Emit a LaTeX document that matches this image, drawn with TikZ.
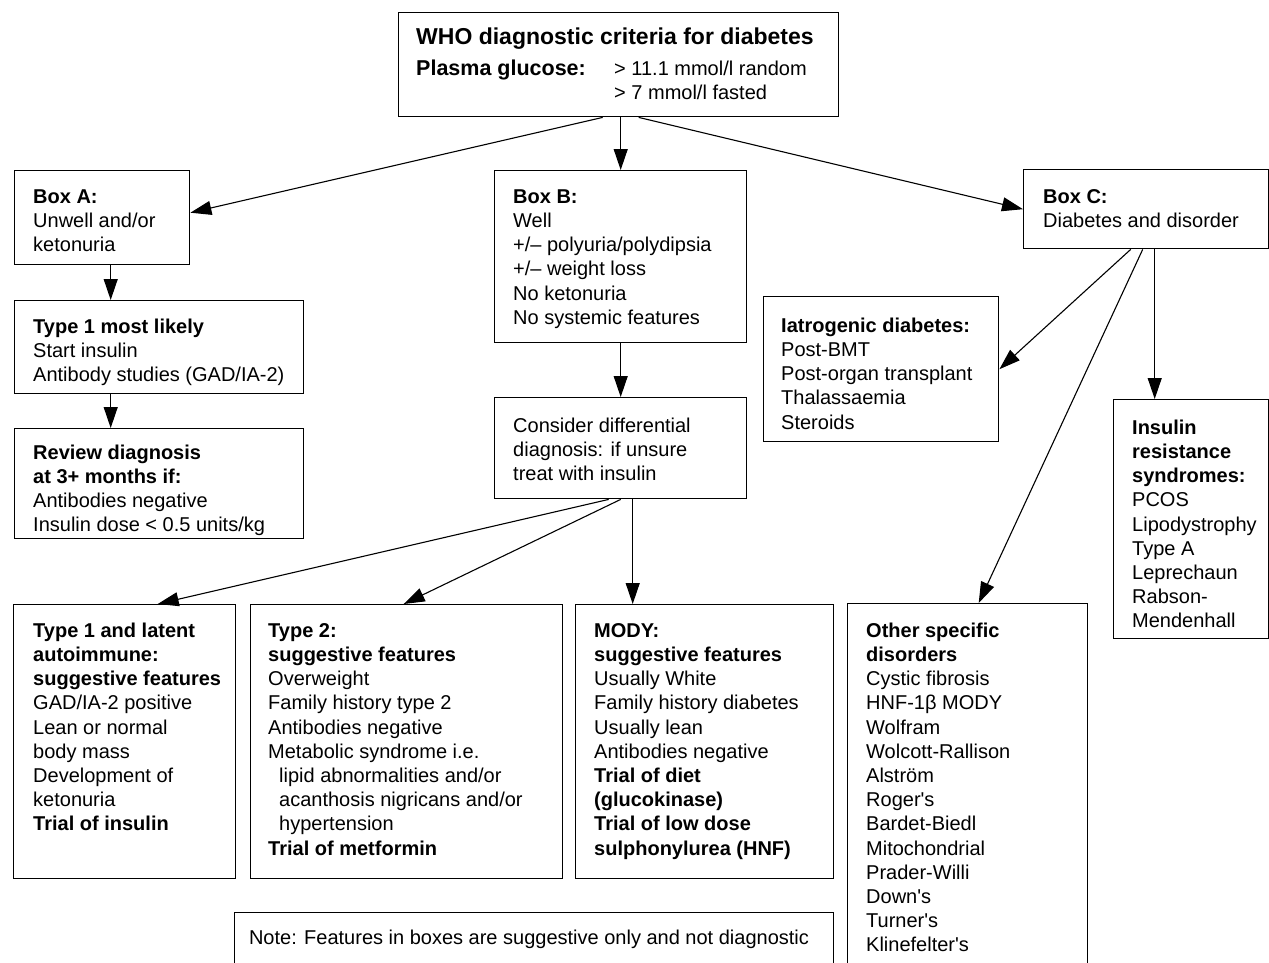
\documentclass[tikz,border=0pt]{standalone}
\usepackage{fontspec}
\setmainfont{Liberation Sans}
\usetikzlibrary{arrows.meta}
\newcommand\fl{\rule{0pt}{15pt}}
\tikzset{
  box/.style={draw, line width=1.4pt, rectangle, inner sep=0pt, anchor=north west},
  txt/.style={anchor=north west, inner sep=0pt, align=left, font=\fontsize{20}{24.2}\selectfont},
  arr/.style={line width=1.1pt, -{Triangle[length=21pt,width=14pt]}},
}
\begin{document}
\begin{tikzpicture}[x=1pt,y=-1pt]
\useasboundingbox (0,0) rectangle (1269,962);
\clip (0,0) rectangle (1269,962);
\fill[white] (0,0) rectangle (1269,962);

% boxes
\node[box, minimum width=440pt, minimum height=104pt] (who) at (398,12) {};
\node[box, minimum width=175pt, minimum height=94pt] (boxA) at (14,170) {};
\node[box, minimum width=252pt, minimum height=172pt] (boxB) at (494,170) {};
\node[box, minimum width=245pt, minimum height=79pt] (boxC) at (1023,169) {};
\node[box, minimum width=289pt, minimum height=93pt] (t1) at (14,300) {};
\node[box, minimum width=289pt, minimum height=110pt] (rev) at (14,428) {};
\node[box, minimum width=252pt, minimum height=101pt] (cons) at (494,397) {};
\node[box, minimum width=235pt, minimum height=145pt] (iat) at (763,296) {};
\node[box, minimum width=155pt, minimum height=239pt] (ins) at (1113,399) {};
\node[box, minimum width=222pt, minimum height=274pt] (lat) at (13,604) {};
\node[box, minimum width=312pt, minimum height=274pt] (t2) at (250,604) {};
\node[box, minimum width=258pt, minimum height=274pt] (mody) at (575,604) {};
\node[box, minimum width=240pt, minimum height=380pt] (oth) at (847,603) {};
\node[box, minimum width=599pt, minimum height=80pt] (note) at (234,912) {};

% texts
\node[txt, font=\fontsize{23}{24.2}\selectfont] (whot) at (416,28) {\textbf{WHO diagnostic criteria for diabetes}};
\node[txt, font=\fontsize{21.5}{24.2}\selectfont] (whop) at (416,60) {\fl\textbf{Plasma glucose:}};
\node[txt] (whov) at (614,60) {\fl> 11.1 mmol/l random\\> 7 mmol/l fasted};

\node[txt] (tA) at (33,188) {\fl\textbf{Box A:}\\Unwell and/or\\ketonuria};
\node[txt] (tt1) at (33,318) {\fl\textbf{Type 1 most likely}\\Start insulin\\Antibody studies (GAD/IA-2)};
\node[txt] (trev) at (33,444) {\fl\textbf{Review diagnosis}\\\textbf{at 3+ months if:}\\Antibodies negative\\Insulin dose < 0.5 units/kg};
\node[txt] (tB) at (513,188) {\fl\textbf{Box B:}\\Well\\+/– polyuria/polydipsia\\+/– weight loss\\No ketonuria\\No systemic features};
\node[txt] (tcons) at (513,417) {\fl Consider differential\\diagnosis: if unsure\\treat with insulin};
\node[txt] (tC) at (1043,188) {\fl\textbf{Box C:}\\Diabetes and disorder};
\node[txt] (tiat) at (781,317) {\fl\textbf{Iatrogenic diabetes:}\\Post-BMT\\Post-organ transplant\\Thalassaemia\\Steroids};
\node[txt] (tins) at (1132,419) {\fl\textbf{Insulin}\\\textbf{resistance}\\\textbf{syndromes:}\\PCOS\\Lipodystrophy\\Type A\\Leprechaun\\Rabson-\\Mendenhall};
\node[txt] (tlat) at (33,622) {\fl\textbf{Type 1 and latent}\\\textbf{autoimmune:}\\\textbf{suggestive features}\\GAD/IA-2 positive\\Lean or normal\\body mass\\Development of\\ketonuria\\\textbf{Trial of insulin}};
\node[txt] (tt2) at (268,622) {\fl\textbf{Type 2:}\\\textbf{suggestive features}\\Overweight\\Family history type 2\\Antibodies negative\\Metabolic syndrome i.e.\\\hspace*{11pt}lipid abnormalities and/or\\\hspace*{11pt}acanthosis nigricans and/or\\\hspace*{11pt}hypertension\\\textbf{Trial of metformin}};
\node[txt] (tmody) at (594,622) {\fl\textbf{MODY:}\\\textbf{suggestive features}\\Usually White\\Family history diabetes\\Usually lean\\Antibodies negative\\\textbf{Trial of diet}\\\textbf{(glucokinase)}\\\textbf{Trial of low dose}\\\textbf{sulphonylurea (HNF)}};
\node[txt] (toth) at (866,622) {\fl\textbf{Other specific}\\\textbf{disorders}\\Cystic fibrosis\\HNF-1β MODY\\Wolfram\\Wolcott-Rallison\\Alström\\Roger\textquotesingle s\\Bardet-Biedl\\Mitochondrial\\Prader-Willi\\Down\textquotesingle s\\Turner\textquotesingle s\\Klinefelter\textquotesingle s};
\node[anchor=base, inner sep=0pt, font=\fontsize{20}{24.2}\selectfont] (tnote) at (529,944) {Note: Features in boxes are suggestive only and not diagnostic};

% connectors
\draw[arr] ([shift={(-16,0)}]who.south) -- ([shift={(0,-5)}]boxA.east);
\draw[arr] (who.south -| boxB.north) -- (boxB.north);
\draw[arr] ([shift={(20,0)}]who.south) -- (boxC.west);
\draw[arr] ([shift={(8.5,0)}]boxA.south) coordinate (a1) -- (a1 |- t1.north);
\draw[arr] ([shift={(-48.5,0)}]t1.south) coordinate (a2) -- (a2 |- rev.north);
\draw[arr] (boxB.south) -- (cons.north);
\draw[arr] ([shift={(-12,0)}]cons.south) -- ([shift={(33,0)}]lat.north);
\draw[arr] (cons.south) -- ([shift={(-3,0)}]t2.north);
\draw[arr] ([shift={(12,0)}]cons.south) coordinate (a3) -- (a3 |- mody.north);
\draw[arr] ([shift={(-15.5,0)}]boxC.south) -- (iat.east);
\draw[arr] ([shift={(-3.5,0)}]boxC.south) -- ([shift={(11,0)}]oth.north);
\draw[arr] ([shift={(8.5,0)}]boxC.south) coordinate (a4) -- (a4 |- ins.north);
\end{tikzpicture}
\end{document}
